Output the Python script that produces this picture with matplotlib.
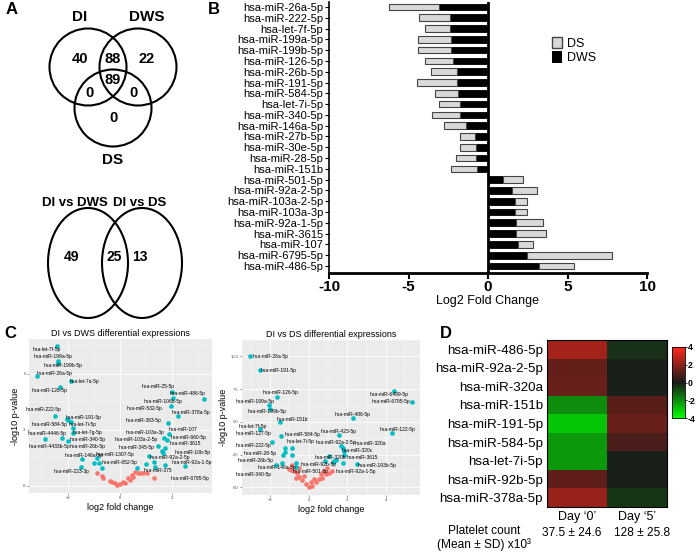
import numpy as np
import matplotlib
matplotlib.use('Agg')
import matplotlib.pyplot as plt
from matplotlib.patches import Circle, Ellipse, Patch
from matplotlib.colors import LinearSegmentedColormap

plt.rcParams['font.family'] = ['Liberation Sans', 'DejaVu Sans']

# --- Panel A: Venn counts ---
venn3_sets = ['DI', 'DWS', 'DS']
# order: DI only, DWS only, DS only, DI&DWS, DI&DS, DWS&DS, all three
venn3_counts = [40, 22, 0, 88, 0, 0, 89]
venn2_sets = ['DI vs DWS', 'DI vs DS']
venn2_counts = [49, 25, 13]

# --- Panel B: log2 fold change ---
mirs_b = ['hsa-miR-26a-5p', 'hsa-miR-222-5p', 'hsa-let-7f-5p', 'hsa-miR-199a-5p',
          'hsa-miR-199b-5p', 'hsa-miR-126-5p', 'hsa-miR-26b-5p', 'hsa-miR-191-5p',
          'hsa-miR-584-5p', 'hsa-let-7i-5p', 'hsa-miR-340-5p', 'hsa-miR-146a-5p',
          'hsa-miR-27b-5p', 'hsa-miR-30e-5p', 'hsa-miR-28-5p', 'hsa-miR-151b',
          'hsa-miR-501-5p', 'hsa-miR-92a-2-5p', 'hsa-miR-103a-2-5p', 'hsa-miR-103a-3p',
          'hsa-miR-92a-1-5p', 'hsa-miR-3615', 'hsa-miR-107', 'hsa-miR-6795-5p',
          'hsa-miR-486-5p']
dws_b = [-3.1, -2.4, -2.36, -2.32, -2.3, -2.19, -1.94, -1.94, -1.9, -1.77, -1.77, -1.39,
         -0.82, -0.78, -0.74, -0.72, 0.95, 1.54, 1.69, 1.69, 1.73, 1.73, 1.88, 2.47, 3.2]
ds_b = [-3.1, -1.97, -1.59, -2.11, -2.13, -1.76, -1.63, -2.53, -1.41, -1.33, -1.75, -1.39,
        -0.95, -0.95, -1.29, -1.58, 1.27, 1.56, 0.78, 0.78, 1.71, 1.9, 0.97, 5.33, 2.24]

# --- Panel C: volcano plots ---
dws_names = ['let-7f-5p', 'miR-199a-5p', 'miR-199b-5p', 'miR-26a-5p', 'let-7a-5p',
             'miR-126-5p', 'miR-25-5p', 'miR-486-5p', 'miR-106b-5p', 'miR-532-5p',
             'miR-378a-5p', 'miR-222-5p', 'miR-191-5p', 'miR-584-5p', 'let-7i-5p',
             'let-7g-5p', 'miR-4446-5p', 'miR-340-5p', 'miR-4433b-5p', 'miR-26b-5p',
             'miR-383-5p', 'miR-107', 'miR-103a-3p', 'miR-660-5p', 'miR-103a-2-5p',
             'miR-345-5p', 'miR-3615', 'miR-10b-5p', 'miR-1307-5p', 'miR-92a-2-5p',
             'miR-652-5p', 'miR-92a-1-5p', 'miR-375', 'miR-6795-5p', 'miR-146a-5p',
             'miR-223-3p', '', '', '', '', '']
dws_fc = [-2.44, -2.40, -2.37, -3.18, -1.88, -2.31, 1.99, 3.22, 2.03, 1.96,
          2.22, -2.5, -1.99, -2.05, -1.88, -1.79, -2.23, -1.79, -2.88, -2.0,
          1.86, 1.9, 1.71, 1.79, 1.45, 1.6, 1.73, 1.67, 1.13, 1.31,
          0.99, 1.73, 1.35, 2.5, -1.47, -1.5, -0.9, -0.99, -0.81, -0.71, 0.67]
dws_p = [7.52, 6.71, 6.61, 5.88, 5.64, 5.29, 5.05, 4.66, 4.71, 4.29,
         3.75, 3.75, 3.54, 3.6, 3.45, 3.09, 2.59, 2.82, 2.54, 2.41,
         3.36, 2.79, 2.59, 2.46, 2.16, 1.88, 2.02, 1.75, 1.61, 1.30,
         1.16, 1.13, 1.04, 1.07, 1.45, 1.0, 1.48, 1.21, 1.21, 0.95, 0.95]
dws_lab_x = [-2.82, -2.56, -2.18, -2.5, -1.38, -2.69, 1.47, 2.59, 1.64, 0.96,
             2.72, -2.95, -1.38, -2.69, -1.45, -1.26, -2.82, -1.26, -2.72, -1.26,
             0.9, 2.41, 0.96, 2.63, 0.64, 0.64, 2.5, 2.79, -0.19, 1.92,
             0.0, 2.76, 1.47, 2.69, -1.38, -1.86]
dws_lab_y = [7.32, 6.93, 6.43, 6.04, 5.61, 5.09, 5.32, 4.93, 4.52, 4.13,
             3.95, 4.07, 3.68, 3.27, 3.29, 2.89, 2.82, 2.5, 2.09, 2.09,
             3.48, 3.0, 2.88, 2.61, 2.48, 2.07, 2.25, 1.82, 1.66, 1.5,
             1.25, 1.25, 0.84, 0.41, 1.64, 0.79]
dws_ns_fc = [-0.9, -0.71, -0.64, -0.38, -0.32, -0.19, -0.13, 0.0, 0.13, 0.19,
             0.32, 0.38, 0.45, 0.51, 0.58, 0.71, 0.77, 0.9, 1.03, 1.31]
dws_ns_p = [0.68, 0.54, 0.41, 0.29, 0.23, 0.18, 0.05, 0.11, 0.23, 0.14,
            0.41, 0.32, 0.59, 0.5, 0.77, 0.68, 0.71, 0.68, 0.68, 0.41]

ds_names = ['miR-26a-5p', 'miR-191-5p', 'miR-126-5p', 'miR-199a-5p', 'miR-199b-5p',
            'miR-151b', 'let-7f-5p', 'miR-127-5p', 'miR-584-5p', 'let-7i-5p',
            'miR-222-5p', 'miR-28-5p', 'miR-26b-5p', 'miR-146a-5p', 'miR-340-5p',
            'miR-6499-5p', 'miR-6795-5p', 'miR-486-5p', 'miR-122-5p', 'miR-423-5p',
            'miR-92a-2-5p', 'miR-320a', 'miR-320c', 'miR-3615', 'miR-320b',
            'miR-193b-5p', 'miR-92b-5p', 'miR-92a-1-5p', 'miR-501-5p',
            '', '', '', '', '']
ds_fc = [-3.04, -2.52, -1.66, -2.06, -2.0, -1.5, -2.52, -1.88, -1.41, -1.23,
         -1.23, -1.31, -1.36, -0.67, -1.7, 4.42, 5.37, 2.31, 4.33, 1.57,
         1.66, 1.78, 1.83, 1.83, 1.26, 2.49, 1.05, 1.8, 0.84,
         -0.88, -0.88, -0.64, 1.43, 1.3]
ds_p = [10.05, 8.96, 6.91, 6.30, 6.01, 5.02, 4.44, 3.48, 3.89, 3.04,
        2.68, 2.51, 1.88, 1.88, 1.72, 7.39, 6.55, 5.27, 4.18, 4.01,
        3.16, 2.97, 2.8, 2.44, 1.96, 1.79, 2.39, 1.84, 2.0,
        3.04, 2.44, 1.55, 2.08, 2.0]
ds_lab_x = [-1.97, -1.54, -1.45, -2.75, -2.14, -0.85, -2.87, -2.83, -0.33, -0.41,
            -2.83, -2.49, -2.75, -1.62, -2.83, 4.16, 4.25, 2.26, 4.6, 1.54,
            1.4, 3.21, 2.52, 2.78, 1.14, 3.56, 0.53, 2.44, 0.1]
ds_lab_y = [10.0, 8.96, 7.22, 6.54, 5.82, 5.22, 4.61, 4.13, 4.01, 3.48,
            3.16, 2.56, 2.08, 1.55, 0.99, 7.1, 6.54, 5.58, 4.42, 4.25,
            3.46, 3.33, 2.85, 2.25, 2.25, 1.67, 1.71, 1.18, 1.18]
ds_ns_fc = [-0.9, -0.85, -1.02, -0.76, -0.59, -0.5, -0.33, -0.16, 0.02, 0.19,
            0.36, 0.53, 0.71, 0.88, 1.05, 1.23, -0.5, -0.24, 0.27, 0.62,
            0.97, -0.67, 0.1, 0.79]
ds_ns_p = [1.3, 1.71, 1.43, 1.23, 1.11, 0.8, 0.56, 0.27, 0.02, 0.14,
           0.38, 0.63, 0.75, 0.99, 1.11, 1.23, 1.47, 0.87, 0.63, 0.99,
           1.47, 0.75, 0.38, 1.23]

# --- Panel D: heatmap ---
heat_mirs = ['hsa-miR-486-5p', 'hsa-miR-92a-2-5p', 'hsa-miR-320a', 'hsa-miR-151b',
             'hsa-miR-191-5p', 'hsa-miR-584-5p', 'hsa-let-7i-5p', 'hsa-miR-92b-5p',
             'hsa-miR-378a-5p']
day_labels = ['Day \u20180\u2019', 'Day \u20185\u2019']
day0_vals = [2.4, 1.3, 1.4, -2.0, -3.0, -2.2, -2.2, 1.2, 2.2]
day5_vals = [-0.4, -0.1, -0.1, 1.1, 1.4, 0.85, -0.1, -0.1, -0.5]
platelet = ['37.5 \u00b1 24.6', '128 \u00b1 25.8']

W, H = 696, 555
fig = plt.figure(figsize=(W / 100, H / 100), dpi=100)


def px_axes(x0, y0, w, h):
    return fig.add_axes([x0 / W, 1 - (y0 + h) / H, w / W, h / H])


def fig_text(x, y, s, **kw):
    fig.text(x / W, 1 - y / H, s, **kw)


# ---------- A ----------
axA = px_axes(0, 0, 200, 330)
axA.set_xlim(0, 200)
axA.set_ylim(330, 0)
axA.axis('off')
for c in [(88, 67), (138, 67), (113, 108)]:
    axA.add_patch(Circle(c, 38.5, fill=False, lw=1.5, ec='black'))
for c in [(88, 263), (142, 263)]:
    axA.add_patch(Ellipse(c, 80, 110, fill=False, lw=1.5, ec='black'))
set_pos = [(80, 17), (147, 17), (113, 160)]
for (x, y), s in zip(set_pos, venn3_sets):
    axA.text(x, y, s, ha='center', va='center', fontsize=11, fontweight='bold')
cnt_pos = [(80, 59), (147, 59), (113, 118), (113, 59), (90, 93), (134, 93), (113, 80)]
for (x, y), n in zip(cnt_pos, venn3_counts):
    axA.text(x, y, str(n), ha='center', va='center', fontsize=10.5, fontweight='bold')
for (x, y), s in zip([(75, 203), (140, 203)], venn2_sets):
    axA.text(x, y, s, ha='center', va='center', fontsize=9.5, fontweight='bold')
for (x, y), n in zip([(72, 257), (114, 257), (140, 257)], venn2_counts):
    axA.text(x, y, str(n), ha='center', va='center', fontsize=10, fontweight='bold')
fig_text(6, 10, 'A', fontsize=12, fontweight='bold', va='center')

# ---------- B ----------
axB = px_axes(329, 2, 318, 271)
yb = np.arange(len(mirs_b))
axB.barh(yb, dws_b, height=0.62, color='black', edgecolor='black', lw=0.6)
axB.barh(yb, ds_b, left=dws_b, height=0.62, color='#d9d9d9', edgecolor='#444444', lw=0.8)
axB.axvline(0, color='black', lw=2)
axB.set_ylim(24.65, -0.46)
axB.set_xlim(-10, 10)
axB.set_yticks(yb)
axB.set_yticklabels(mirs_b, fontsize=8)
axB.set_xticks([-10, -5, 0, 5, 10])
axB.set_xticklabels(['-10', '-5', '0', '5', '10'], fontsize=11, fontweight='bold')
axB.tick_params(axis='y', length=3, width=0.8, pad=1)
axB.tick_params(axis='x', length=4, width=1.5, pad=1)
axB.set_xlabel('Log2 Fold Change', fontsize=9, labelpad=1)
for s in ['top', 'right']:
    axB.spines[s].set_visible(False)
axB.spines['left'].set_linewidth(1.2)
axB.spines['bottom'].set_linewidth(2)
axB.legend([Patch(facecolor='#d9d9d9', edgecolor='#444444'), Patch(facecolor='black')],
           ['DS', 'DWS'], fontsize=9, frameon=False, handlelength=0.8, handleheight=1.0,
           labelspacing=0.1, handletextpad=0.4, loc='upper left',
           bbox_to_anchor=(541 / W, 1 - 26 / H), bbox_transform=fig.transFigure)
fig_text(208, 10, 'B', fontsize=12, fontweight='bold', va='center')


# ---------- C ----------
def volcano(ax, names, fc, p, lx, ly, nfc, npv, xlim, ylim, xt, xminor, yt, ytl, title):
    ax.set_facecolor('#EBEBEB')
    ax.set_xlim(*xlim)
    ax.set_ylim(*ylim)
    ax.set_xticks(xt)
    ax.set_xticks(xminor, minor=True)
    ax.set_yticks(yt)
    ax.set_yticklabels(ytl)
    ax.set_yticks([(a + b) / 2 for a, b in zip(yt[:-1], yt[1:])] + [yt[-1] + (yt[1] - yt[0]) / 2],
                  minor=True)
    ax.grid(True, which='major', color='white', lw=0.6)
    ax.grid(True, which='minor', color='white', lw=0.3)
    ax.set_axisbelow(True)
    for s in ax.spines.values():
        s.set_visible(False)
    ax.tick_params(which='major', labelsize=3, colors='#4d4d4d', length=1.5, width=0.4, pad=1)
    ax.tick_params(which='minor', length=0)
    ax.scatter(nfc, npv, s=11, color='#F8766D', lw=0, zorder=3)
    ax.scatter(fc, p, s=11, color='#00BFC4', lw=0, zorder=3)
    for i, (x, y) in enumerate(zip(lx, ly)):
        ax.text(x, y, 'hsa-' + names[i], fontsize=3.6, ha='center', va='center', zorder=4)
    ax.set_title(title, fontsize=6.5, pad=2)
    ax.set_xlabel('log2 fold change', fontsize=6.5, labelpad=2)
    ax.set_ylabel('-log10 p-value', fontsize=6.5, labelpad=2)


axC1 = px_axes(29, 339, 183, 154)
volcano(axC1, dws_names, dws_fc, dws_p, dws_lab_x, dws_lab_y, dws_ns_fc, dws_ns_p,
        (-3.5, 3.54), (-0.375, 7.87), [-2, 0, 2], [-3, -1, 1, 3], [0, 3, 6], ['0', '3', '6'],
        'DI vs DWS differential expressions')
axC2 = px_axes(242, 340, 178, 155)
volcano(axC2, ds_names, ds_fc, ds_p, ds_lab_x, ds_lab_y, ds_ns_fc, ds_ns_p,
        (-3.45, 5.76), (-0.58, 10.65), [-2, 0, 2, 4], [-3, -1, 1, 3, 5],
        [0, 2.5, 5, 7.5, 10], ['0.0', '2.5', '5.0', '7.5', '10.0'],
        'DI vs DS differential expressions')
fig_text(4, 333, 'C', fontsize=12, fontweight='bold', va='center')

# ---------- D ----------
cmap = LinearSegmentedColormap.from_list('gkr', ['#00ff00', '#1a1a1a', '#ff2a1a'])
axD = px_axes(547, 340, 120, 167)
heat = np.column_stack([day0_vals, day5_vals])
axD.imshow(heat, cmap=cmap, vmin=-4, vmax=4, aspect='auto')
axD.set_yticks(range(len(heat_mirs)))
axD.set_yticklabels(heat_mirs, fontsize=9.6)
axD.set_xticks([0, 1])
axD.set_xticklabels(day_labels, fontsize=9)
axD.tick_params(length=0, pad=3)
for s in axD.spines.values():
    s.set_linewidth(0.8)

axCB = px_axes(672, 347, 13, 71)
grad = np.linspace(4, -4, 100).reshape(-1, 1)
axCB.imshow(grad, cmap=cmap, vmin=-4, vmax=4, aspect='auto', extent=(0, 1, -4, 4))
axCB.set_xticks([])
axCB.yaxis.tick_right()
axCB.set_yticks([4, 2, 0, -2, -4])
axCB.set_yticklabels(['4', '2', '0', '-2', '-4'], fontsize=6.3, fontweight='bold')
axCB.tick_params(length=1.5, width=0.6, pad=0.5)
for s in axCB.spines.values():
    s.set_linewidth(0.6)

fig_text(484, 531, 'Platelet count', fontsize=8.6, ha='center', va='center')
fig_text(484, 545, '(Mean \u00b1 SD) x10\u00b3', fontsize=8.6, ha='center', va='center')
for x, s in zip([572, 642], platelet):
    fig_text(x, 533, s, fontsize=8.6, ha='center', va='center')
fig_text(440, 333, 'D', fontsize=12, fontweight='bold', va='center')

fig.savefig('out.png', dpi=100)
